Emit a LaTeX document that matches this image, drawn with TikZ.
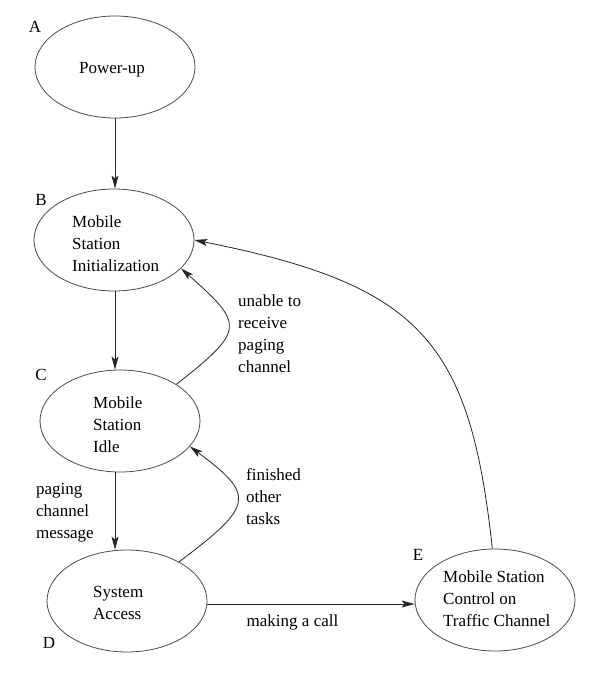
\documentclass[tikz,border=0pt]{standalone}
\usepackage{fontspec}
\setmainfont{Liberation Serif}
\usetikzlibrary{shapes.geometric,arrows.meta}
\newcommand{\myfs}{\fontsize{17}{22}\selectfont}
\begin{document}
\begin{tikzpicture}[x=1pt,y=-1pt,
 state/.style={ellipse,draw=black!70,line width=0.8pt,minimum width=160pt,minimum height=102pt,inner sep=0pt},
 lbl/.style={font=\myfs,inner sep=0pt,align=left,anchor=west},
 letter/.style={font=\myfs,inner sep=0pt,anchor=center},
 conn/.style={draw=black!85,line width=0.8pt,-{Stealth[length=13pt,width=7pt,inset=3pt]}},
]
\useasboundingbox (0,0) rectangle (600,688);
\fill[white] (0,0) rectangle (600,688);

\node[state] (A) at (115,67) {};
\node[state] (B) at (114,240) {};
\node[state] (C) at (120,421) {};
\node[state] (D) at (127,601) {};
\node[state] (E) at (495,600) {};

\node[font=\myfs,inner sep=0pt] (ta) at (112,70) {Power-up};
\node[lbl] (tb) at (72,244) {Mobile\\Station\\Initialization};
\node[lbl] (tc) at (93,425) {Mobile\\Station\\Idle};
\node[lbl] (td) at (93,603) {System\\Access};
\node[lbl] (te) at (443,599) {Mobile Station\\Control on\\Traffic Channel};

\node[letter] (la) at (35,27) {A};
\node[letter] (lb) at (41,200) {B};
\node[letter] (lc) at (41,375) {C};
\node[letter] (ld) at (49,643) {D};
\node[letter] (le) at (418,555) {E};

\draw[conn] (A.south) -- (B.north -| A.south);
\draw[conn] (B.south -| A.south) -- (C.north -| A.south);
\draw[conn] (C.south -| A.south) -- (D.north -| A.south);
\draw[conn] ([yshift=-3pt]D.east) -- ([yshift=-3pt]D.east -| E.west);
\draw[conn] (C.33) .. controls (245,330) and (245,325) .. (B.-23);
\draw[conn] (D.37) .. controls (255,505) and (255,495) .. (C.-20);
\draw[conn] (E.93) .. controls (470,340) and (420,285) .. (B.east);

\node[lbl] (l1) at (238,334) {unable to\\receive\\paging\\channel};
\node[lbl] (l2) at (246,497) {finished\\other\\tasks};
\node[lbl] (l3) at (36,513) {paging\\channel\\message};
\node[font=\myfs,inner sep=0pt] (l4) at (292.5,622) {making a call};
\end{tikzpicture}
\end{document}
